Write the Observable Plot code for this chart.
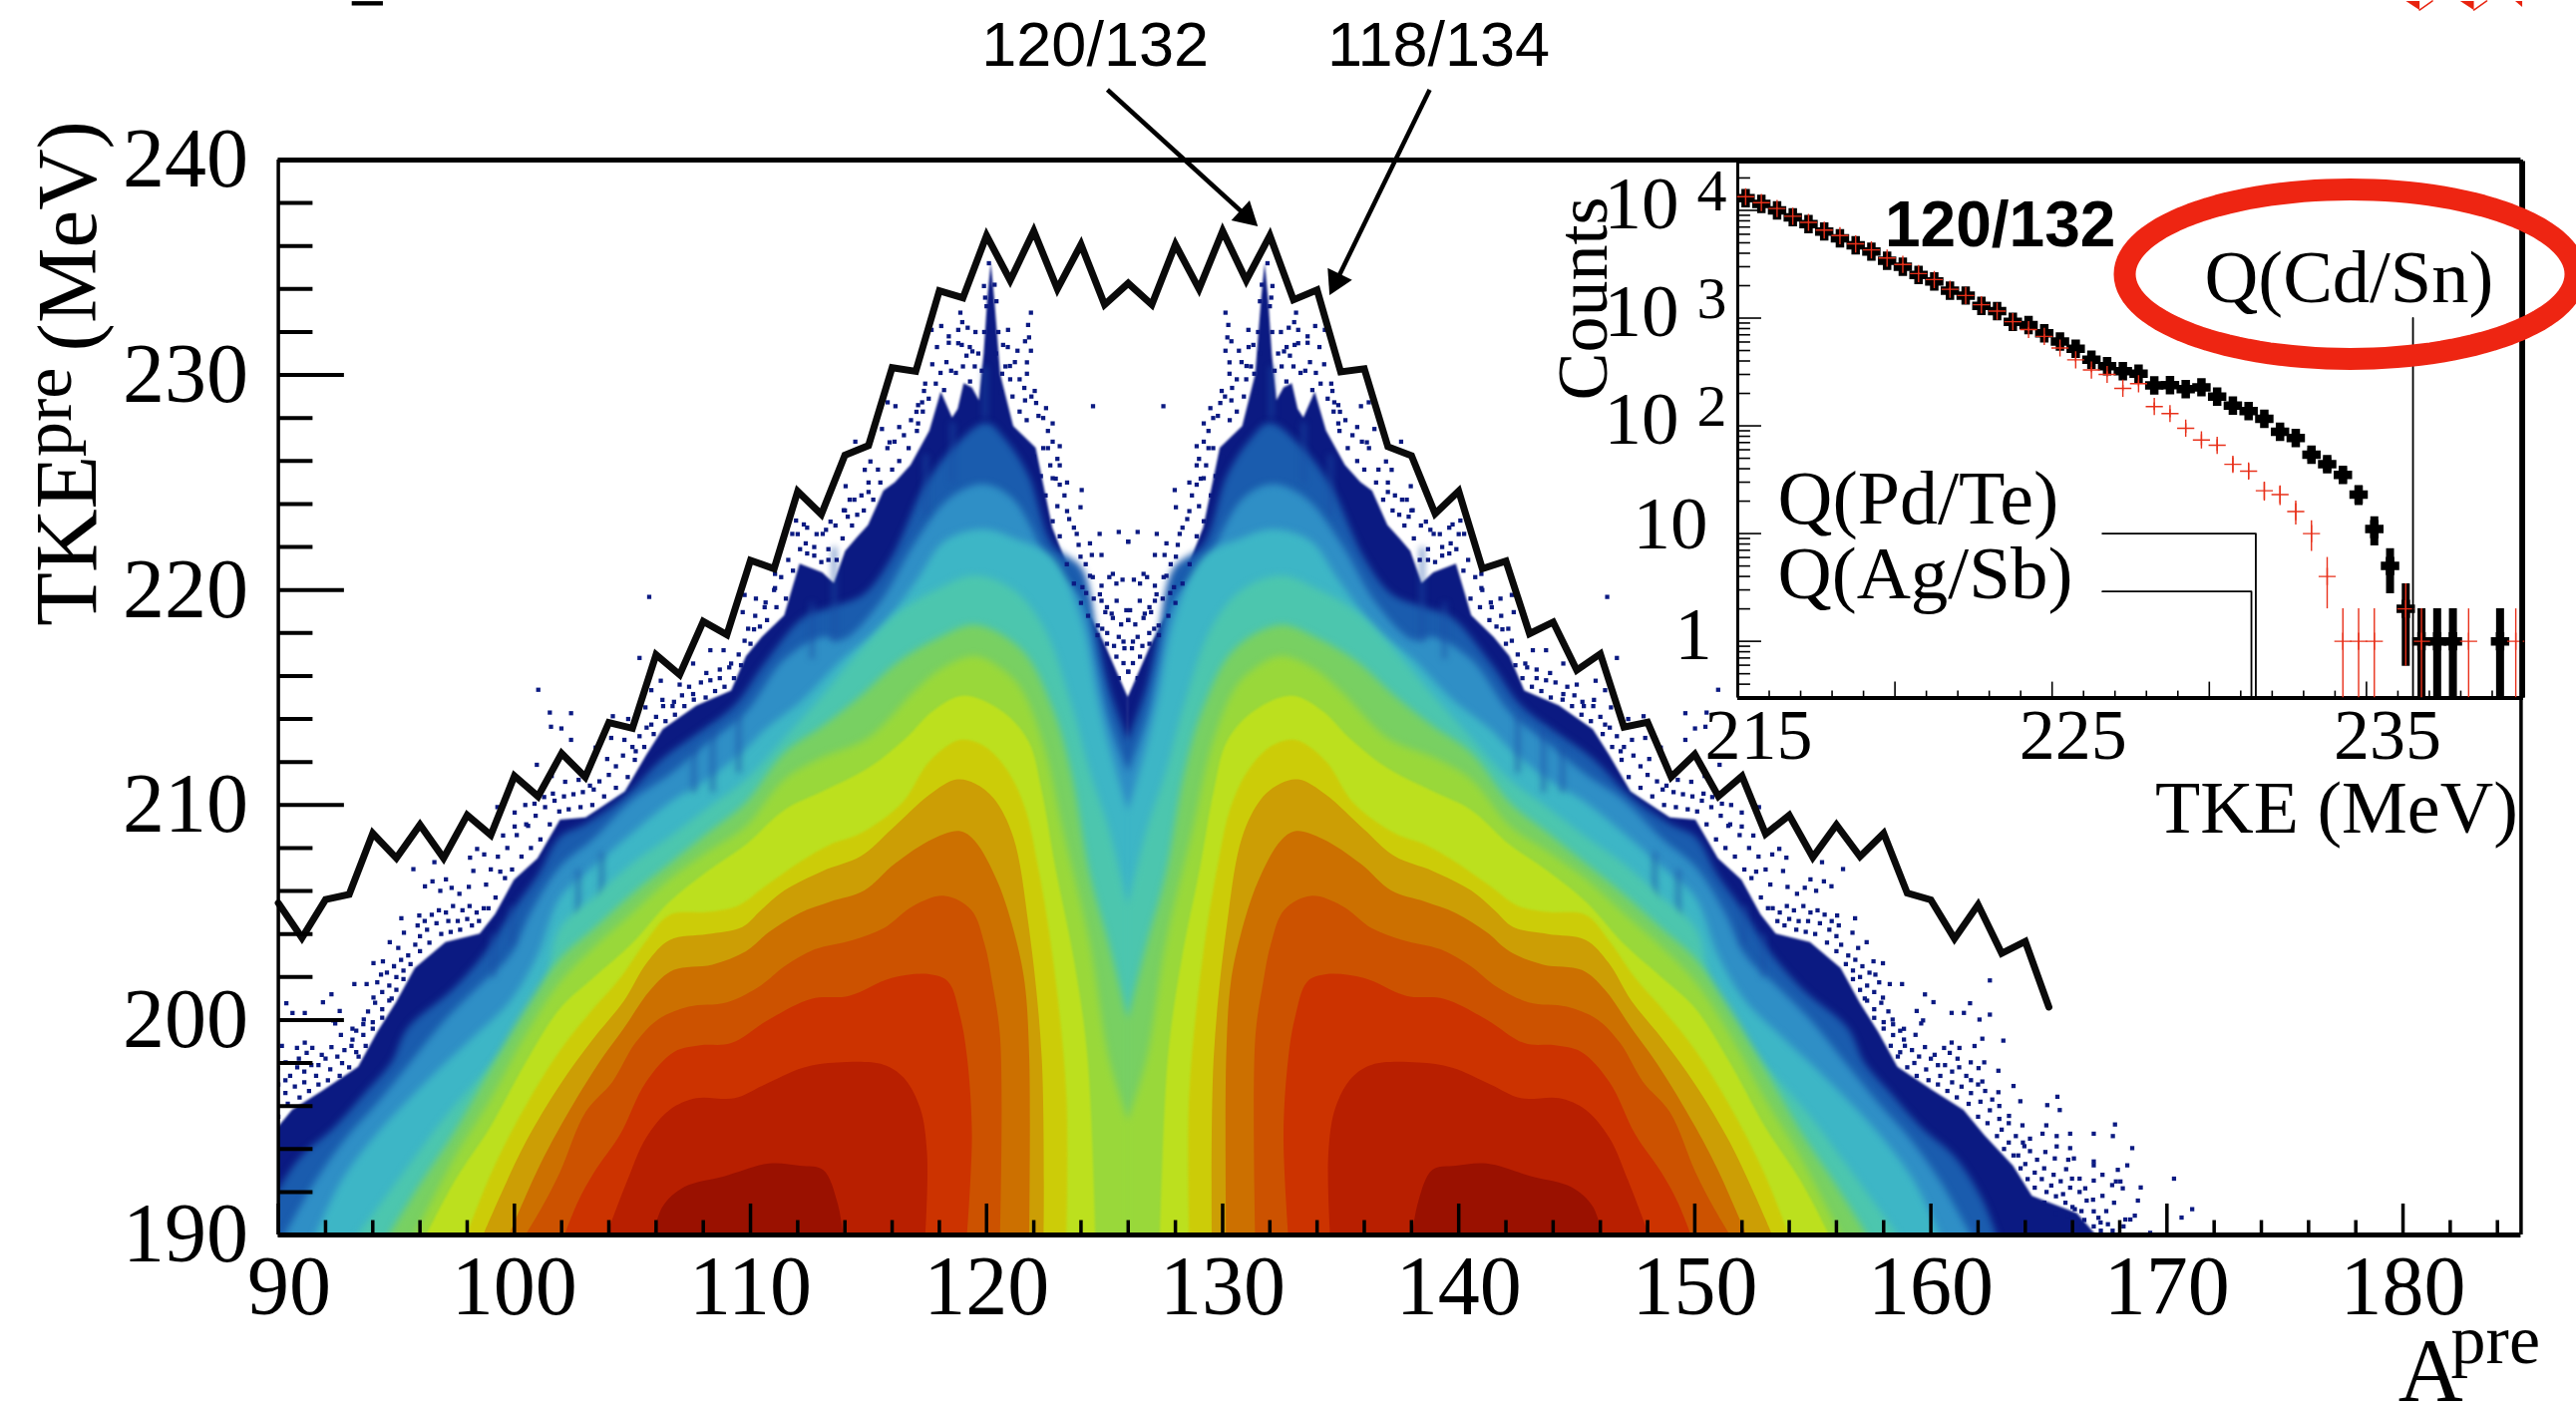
<!DOCTYPE html>
<html><head><meta charset="utf-8">
<script src="https://cdn.jsdelivr.net/npm/d3@7"></script>
<script src="https://cdn.jsdelivr.net/npm/@observablehq/plot@0.6"></script>
<style>
html,body{margin:0;padding:0;background:#fff;overflow:hidden}
#wrap{position:relative;width:2583px;height:1409px}
#wrap svg{position:absolute;left:0;top:0;background:transparent}
</style></head><body><div id="wrap"></div>
<script>
// ---- main panel: envelope line (TKE upper limit vs mass)
const lineMass = d3.range(90,166);
const lineTKE = [205.44,203.82,205.6,205.84,208.68,207.53,209.08,207.53,209.53,208.6,
211.35,210.4,212.4,211.3,213.84,213.57,216.99,216.06,218.54,217.92,
221.38,220.99,224.59,223.52,226.27,226.72,230.34,230.17,233.92,233.59,
236.49,234.4,236.7,234.0,236.07,233.27,234.27,233.27,236.07,234.0,
236.7,234.4,236.49,233.5,233.96,230.15,230.29,226.67,226.25,223.55,
224.6,220.99,221.35,217.97,218.51,216.27,217.03,213.62,213.85,211.3,
212.36,210.4,211.34,208.65,209.52,207.57,209.08,207.6,208.68,205.9,
205.59,203.78,205.36,203.1,203.65,200.6];
// ---- heat-map bands: upper contour [A,TKE] on the heavy-fragment side (the light side is its A -> 252-A image)
const levelNavy = [[126,215],[127,217.5],[128.1,219.8],[129.2,222.9],[129.9,226.6],[130.85,227.6],[131.4,230],[131.65,233.5],[131.8,235.2],[131.95,233.5],[132.1,231],[132.3,228.8],[132.6,229.4],[132.95,229.6],[133.2,228.4],[133.44,228],[133.92,229.2],[134.4,227.4],[135.2,225.8],[135.86,225],[136.35,224.6],[137,223],[137.5,222.4],[137.97,221.8],[138.45,220.3],[138.94,220.8],[139.9,221.2],[140.23,220],[140.55,218.8],[141.5,217.8],[142.17,216.9],[142.8,215.3],[144.27,214.6],[145.7,213.5],[146.4,212.3],[147.3,210.6],[148.96,209.4],[150.05,209.3],[151,207.5],[152,206.5],[152.8,204.9],[153.45,204],[154.9,203.6],[156.2,202.4],[157,200.8],[157.8,199.4],[158.6,197.8],[160.1,196.7],[161.4,195.8],[162.3,194.6],[163.5,193.2],[164.3,191.8],[166.2,191],[167,190]];
const levelBlue = [[126,213],[126.8,215.5],[127.3,218],[127.94,221],[129.2,222.1],[130.2,225.3],[131.2,227],[132,227.75],[133.3,226.7],[134.57,224.9],[136,221.5],[137.16,219.8],[138.5,219.2],[139.74,218.7],[141.36,216.6],[142.66,214.6],[144.1,213.4],[145.7,212.14],[147.3,210.37],[148.96,209.1],[150.05,208.5],[151,206.7],[152.15,204.95],[153.3,203],[154.6,201.4],[156.5,199.6],[157.2,198],[158.3,196.6],[159.6,195],[161.05,193.6],[162.2,191.64],[162.8,190]];
const levelMid = [[126,211.5],[126.8,214],[127.3,216.5],[127.94,219.5],[129.2,221],[130.85,224.2],[132.14,224.9],[133.6,224.2],[135.06,222.1],[136.5,219.4],[138.1,217.65],[138.94,217.8],[140.55,216.75],[142.17,214.3],[143.8,212.85],[145.4,211.4],[147,210.2],[148.64,208.4],[150.05,207.1],[151.3,204.95],[152.15,203],[153.3,201.75],[154.9,200],[156.5,197.85],[157.8,196.1],[159.1,194.5],[160.4,192.5],[161.7,190]];
const levelTeal = [[126,209.7],[126.8,212.75],[127.3,215],[127.94,218.5],[129.2,221.5],[130.85,222.4],[132.14,222.8],[133.76,222.25],[134.9,220.5],[136.5,218.2],[138.1,216.75],[139.74,214.9],[141.36,213.5],[142.17,212.6],[143.8,211.16],[145.4,210.1],[147,208.67],[148.64,207.1],[150.05,205.66],[151,203],[152.15,200.87],[153.8,199.1],[155.2,197.67],[156.8,195.9],[158.1,194.3],[159.3,192.5],[160.4,190]];
const levelAqua = [[126,205.3],[126.8,208.85],[127.6,211.5],[128.4,214.7],[129.56,218.25],[130.85,220],[132.47,220.65],[134.1,220],[135.7,218.96],[137.3,217.2],[138.94,215.06],[140.55,213.1],[142.17,211.16],[143.8,209.83],[145.4,208.5],[147,207.25],[148.64,205.66],[150.05,204.24],[150.86,200.87],[152,199.1],[153.3,197.5],[154.9,195.5],[156.4,193.3],[158.6,190]];
const levelGreen = [[126,200],[126.8,203.5],[127.6,206.7],[128.4,211.5],[129.2,214.5],[130.5,217.2],[132.47,218.35],[134.1,217.7],[135.7,216.66],[137.3,215.06],[138.94,213.64],[140.55,212.4],[142.17,210.1],[143.8,208.67],[145.4,207.25],[147,205.83],[148.64,204.2],[150.05,202.82],[151.5,200.5],[153,197.7],[154.5,194.8],[156,192.3],[157.3,190]];
const levelLime = [[126,195.3],[126.8,198.2],[127.6,203.5],[128.75,208.85],[129.56,212.75],[130.53,215.4],[131.34,216.3],[132.47,216.9],[133.92,216.3],[135.06,215.24],[137,213.1],[138.94,212.2],[140.55,211.16],[142.17,209],[143.8,207.8],[145.4,206.54],[147,204.95],[148.64,203.35],[150.05,201.75],[151.5,199.3],[153,196.3],[154.5,193.6],[156.2,190]];
const levelYellowGreen = [[127.37,190],[127.7,198.2],[128.26,202.64],[129.07,207.1],[129.64,210.6],[130.2,212.93],[131.34,214.35],[132.95,215.06],[134.25,214.35],[135.38,213.1],[137,211.69],[138.94,210.6],[140.55,209.74],[142.17,208.14],[143.8,206.9],[145.4,205.48],[147,203.53],[148.64,201.93],[150.05,200.5],[151.5,198],[153,195],[154.5,192.5],[155.7,190]];
const levelYellow = [[128.6,190],[128.6,196.43],[129.15,202.64],[129.8,207.1],[130.37,209.9],[131.17,211.7],[132.14,212.75],[133.1,213],[134.4,212],[135.54,210.1],[137.3,208.67],[138.6,208.14],[139.74,207.43],[141.36,206.2],[142.5,205.3],[143.8,205],[145.4,204.86],[146.37,203.7],[147.5,201.93],[148.64,200.5],[150.05,198.56],[151.5,196],[152.9,193],[154,190]];
const levelGold = [[129.56,190],[129.64,198.2],[130.2,204.4],[130.85,208.5],[131.66,210.27],[132.47,210.98],[133.28,211.16],[134.4,210.45],[136,208.85],[137.3,207.6],[138.94,206.9],[140.55,206],[141.52,205.1],[142.33,204.3],[143.8,203.97],[145.4,203.7],[146.37,202.64],[147.34,200.87],[148.64,199.1],[150.05,196.96],[151.5,194.3],[152.5,192],[153.3,190]];
const levelOrange = [[130.17,190],[130.17,198.2],[130.37,201.75],[130.77,203.88],[131.5,206.37],[132.47,208.3],[133.1,208.76],[134.25,208.4],[135.86,207.25],[137.16,206],[138.6,205.48],[139.9,204.95],[141.2,204.06],[142.17,203.17],[143.6,202.55],[145.24,202.3],[146.2,201.4],[147.34,199.6],[148.48,197.85],[150.05,195],[151,193],[152.2,190]];
const levelDarkOrange = [[131.4,190],[131.4,199.1],[131.74,201.75],[132.06,203.5],[132.63,205.1],[133.76,205.75],[135.06,205.3],[136.35,204.24],[137.64,203.7],[139.26,203.26],[140.55,202.46],[141.52,201.6],[142.98,200.8],[144.6,200.6],[145.9,200],[146.86,198.9],[147.83,197.1],[148.96,195.7],[150.05,192.9],[150.8,191.3],[151.5,190]];
const levelRedOrange = [[132.8,190],[132.6,194.66],[132.8,198.2],[133.1,200.16],[133.6,201.75],[134.4,202.1],[136,201.93],[137.8,201.1],[139.4,200.96],[141.2,200],[142.8,198.9],[144.1,198.8],[145.2,198.5],[146.4,197.1],[147.5,194.66],[148.6,192.9],[149.3,191.5],[149.85,190]];
const levelRed = [[134.57,190],[134.5,193.77],[134.8,195.9],[135.5,197.3],[136.35,197.9],[138.3,198],[139.75,197.76],[141.4,196.96],[142.65,196.34],[144.27,196.34],[145.4,195.8],[146.4,194.5],[147.2,192.5],[148.07,190]];
const levelDarkRed = [[138.05,190],[138.3,191.5],[138.9,193],[139.9,193.2],[141.2,193.3],[143.1,192.7],[144.8,192.2],[145.7,191.3],[146.1,190]];
const bandLevels = [levelNavy,levelBlue,levelMid,levelTeal,levelAqua,levelGreen,levelLime,levelYellowGreen,levelYellow,levelGold,levelOrange,levelDarkOrange,levelRedOrange,levelRed,levelDarkRed];
const bandColors = ["#0b1a82","#1a5cae","#2f8fc6","#3db6c6","#4cc6ae","#78d062","#99d83a","#bce01e","#cccc08","#cc9e05","#cc7000","#cc5200","#cc3300","#b81f00","#9a1100"];
// dark streaks [A, TKE top, TKE bottom] where even masses stand out
const streaks = [[138.45,222,217.6],[139.4,219.4,216.8],[142.5,214.2,211.5],[143.6,213.6,210.6],[144.4,212.7,210.6],[148.3,207.8,205.3],[149.3,207,204.8],[133.44,227.8,225],[134.57,226.3,223.5],[132.06,230.4,228],[152.1,205.3,203.5],[152.9,204,202]];
// isolated counts at the edge of the distribution, heavy side
const strayMass = [150.99,150.45,151.05,150.37,151.54,151.15,152.72,151.99,151.42,151.99,152.48,153.58,153.88,153.28,156.28,155.39,153.74,154.9,155.47,155.79,155.14,154.66,154.33,153.93,156.79,156.03,156.68,157.28,156.92,157.97,157.57,157.65,158.26,158.78,157.81,157.97,159.75,160.11,161.66,162.5,159.4,160.88,161.4,162.5,162.06,159.67,158.38,159.59,158.86,159.35,162.18,163.07,160.88,159.75,161.85,161.21,160.56,158.86,160.16,160.8,161.13,162.26,161.69,162.86,162.02,162.18,163.5,162.86,163.79,164.93,165.36,165.46,163.31,163.88,164.89,164.73,165.33,165.9,166.9,167.8,167.71,165.33,165.9,168.53,164.2,164.85,163.96,165.25,165.82,166.06,166.9,166.9,168.32,167.92,165.73,167.27,165.98,166.3,166.9,167.84,168.03,170.3,167.68,166.54,168.13,168.89,167.27,168.77,166.87,167.76,171.07,170.62,168.64,168.24,168.45,167.43,168.16,169.29,167.19,166.38,
127.49,127.97,130.12,130.24,130.2,130.37,130.12,130.69,131.09,130.29,130.29,131.01,131.34,129.96,129.48,130.37,129.2,129.8,128.9,129.4,128.9,129.3,128.59,129.07,128.02,128.59,126.4,127.21,128.18,127.62,126,127.13,127.54,128.02,126.24,126.65,127.13,127.62,127.94,126.49,127.13,127.46,127.78,126.08,126.65,126.97,126.4,126.89,127.29,126.16,133.11,133.03,133.92,134.33,132.47,133.6,133.2,132.71,131.9,131.66,132.11,131.58,132.06,135.86,136.19,135.7,136.43,136.11,134.97,134.73,134.65,134.9,137.56,137.16,136.92,137.97,137.8,137,138.05,137.48,138.61,137.88,139.74,140.07,138.94,140.23,139.66,140.96,140.96,141.36,142.25,141.77,146.29,142.33,141.85,142.25,143.14,143.7,146.7,142.82,144.43,143.3,143.87,145.8,145,144.43,146.2,145.24,145.73,146.45,147.83,147.18,149.6,150.5,146.2,147.34,149.6,150.01,147.9,148.56,148.07,146.86,149.28,150.42,150.74,149.85,148.64];
const strayTKE = [215.36,213.64,211.87,210.53,210,210.06,209.9,209.65,209.03,209,208.58,207.96,207.55,207.7,207.02,207.34,206.93,206.54,206.45,206.22,206.01,206.15,205.87,206.19,204.73,204.86,204.06,203.62,203.35,202.64,202.73,202.11,201.67,201.67,201.75,201.04,201.19,200.83,200.78,201.84,200.42,200.33,200.33,200.25,200.02,199.98,200.02,199.84,199.59,199.31,199.13,199.04,198.95,198.74,198.79,198.7,198.7,199.09,198.38,198.47,198.2,198.03,198.03,197.64,197.76,197.14,196.93,196.64,196.22,196.04,196.43,195.81,195.54,195.1,195.1,194.71,194.6,194.71,194.71,195.14,194.6,194.12,194.04,194.04,194.48,193.86,194.13,193.56,193.5,193.56,193.42,193.24,193.24,193.03,193.06,192.8,192.62,192.62,192.53,192.49,192.49,192.62,192.32,192.17,192.17,192.21,191.82,191.6,191.64,191.5,191.2,190.81,190.9,190.72,190.72,191.11,190.4,190.1,190.58,191.11,
228.55,224.65,232.9,232.33,231.75,231.57,231.13,231.13,232.1,230.59,230.06,230.42,230.06,229.26,228.46,228.82,227.75,228.1,226.69,226.6,225.8,225.8,225,225.18,223.85,223.67,222.7,222.61,222.61,222.17,222.25,221.63,221.63,221.55,220.48,220.75,220.2,220.66,220.13,219.5,219.5,219.6,219.86,219.06,218.7,218.97,217.82,218,218.35,217.29,232.9,232.46,232.28,232.1,232,231.8,231.48,231.3,235.2,234.2,234.14,233.43,233.6,228.55,228.73,227.58,227.49,226.87,228.29,228.73,229.26,227.75,226.9,225.59,225.98,224.83,224.2,224.56,223.71,223.5,223.18,223.41,223.05,223.23,222.61,222.61,222.17,220.75,220.09,219.42,219.77,219.6,219.68,218.97,218.17,217.64,217.2,217.2,216.84,216.58,216.58,216.3,216.14,215.78,215.6,215.16,215.34,214.8,214.89,214.54,214.13,214,214.27,214.3,213.74,213.03,213.03,213.56,213.12,212.67,212.14,212.5,211.17,211.35,210.37,211.08,210.72];
// speckle hugging the dense edge, read cluster by cluster
const edgeSpeckle = [[153.3,205.2],[153.6,205],[153.9,205.3],[154.2,205.1],[154.6,205.3],[154.9,205],[155.2,205.1],[155.5,204.9],[155.8,204.6],[156.1,204.4],[153.5,204.6],[154,204.7],[154.4,204.6],[154.8,204.6],[155.3,204.5],[155.7,204.2],[156,203.9],[156.2,203.5],
[156.5,203],[156.8,202.8],[157.1,202.5],[157,202],[156.7,202.3],[157.4,202.2],[157.3,201.6],[157.6,201.3],[157.2,201],[157.9,200.8],[157.6,200.5],[158.2,200.4],[158,199.9],[158.4,199.8],[158.7,199.5],[158.4,199.3],
[158.9,198.8],[159.2,198.6],[158.7,198.5],[159.5,198.3],[160,198.2],[159.3,198],[160.3,197.9],[160.6,197.9],[159.8,197.7],[160.9,197.6],[161.2,197.8],[160.4,197.4],[161.5,197.4],[160.9,197.1],[161.7,197.2],[162,197],[161.3,196.9],[162.3,196.7],[161.7,196.6],[162.6,196.3],[162.1,196.2],[162.9,196],[162.5,195.8],
[162.9,195.4],[163.3,195.2],[163,194.9],[163.6,194.6],[163.3,194.3],[163.9,194.3],[164.2,193.9],[163.7,193.7],[164.5,193.5],[164,193.3],[164.8,193.1],[164.4,192.9],[165.2,192.8],[164.7,192.6],[165.5,192.5],[165.9,192.2],[165.1,192.3],[166.3,192],[165.6,191.9],[166.6,191.6],[166,191.3],[166.9,191.1],[167.1,190.8],[166.5,190.7],[167.5,190.5],[166.9,190.4],[167.7,190.2],[167.2,190.2],
[142.5,217],[142.9,216.4],[143.3,215.9],[143.7,215.8],[144.1,215.7],[144.6,215.5],[144.9,215.1],[145.3,214.6],[145.7,214.6],[146,214.1],[146.4,213.6],[146.7,213.2],[147,212.7],[147.4,212.3],[147.7,211.8],[148,211.4],[148.4,211.1],[148.8,210.9],[149.1,210.6],[149.5,210.5],[149.9,210.4],[150.3,210.2],[150.7,209.9],[151.1,209.5],[151.5,209.1],[151.9,208.6],[152.3,208],[152.7,207.6],[153,207],[153.2,206.3],[152.6,206.9],
[134.6,229.6],[134.9,228.6],[135.2,227.9],[135.5,227.2],[135.9,226.9],[136.2,226.6],[136.6,225.6],[137,225],[137.3,224.4],[137.6,224.2],[138,223.7],[138.4,223],[138.8,222.8],[139.2,222.6],[139.6,222.9],[140,222.6],[140.4,221.4],[140.7,220.6],[141,220],[141.4,219.2],[141.8,218.8],[142.1,218.2],[132.8,232.2],[133.2,232.1],[133.6,231.5],[134.1,231.3],[134.3,230.5],[133,230.4],[132.7,229.7],[133.8,229.3],[138.7,221.4],[139.3,221.6],
[131.1,231.3],[130.8,230.6],[130.6,229.8],[130.4,229.4],[130.1,229],[129.9,228.7],[129.6,228],[129.4,227.4],[129.2,226.9],[129.6,226.6],[129,226.1],[129.2,225.2],[128.9,224.9],[128.7,224.4],[129,223.9],[128.5,223.3],[128.3,222.9],[128.1,222.1],[127.8,221.2],[127.5,220.6],[127.2,219.8],[126.9,219.2],[126.7,218.9],[126.3,218.4],[126.2,217.6],[126.6,217.4],[127.1,218.2],[126,218.6],[126.5,220.3],[126.8,220.6],
[130.3,227.9],[130.6,228.3],[130.9,229],[131,229.8],[131.2,230.4],[131.3,231.4],[131.5,232],[131.6,231],[131.4,229.2],[132.2,230.2],[132.1,232],[132,233.2],[132.35,231],[132.5,230.4],[132.6,231.1],[132.85,230.9],[133.05,231.4],[133.3,230.1],[133.5,230.2],[133.7,230.6],[133.95,230.1],[134.15,229.6],[134.45,228.9],[134.7,228.3],[134.95,227.4],[135.3,226.6],[135.7,226],[136,225.6],[136.5,225],[136.8,224.2],[137.2,223.7],[137.7,223],[138.1,222.4],[138.35,221.4],[138.7,221.9],[139,221.3],[139.3,222],[139.6,221.7],[139.9,221.9],[140.2,220.9],[140.5,219.6],[140.9,219.2],[141.3,218.6],[141.6,218.3],[142,217.5],[142.4,216.5],[142.7,215.9],[143.1,215.5],[143.5,215.3],[143.9,215],[144.4,214.9],[144.8,214.6],[145.2,214.2],[145.6,213.9],[146.1,213.3],[146.5,212.7],[146.9,212.1],[147.2,211.3],[147.7,210.8],[148.2,210.4],[148.7,210],[149.2,209.9],[149.7,209.8],[150.1,209.7],[150.5,209.1],[150.9,208.4],[151.3,208],[151.7,207.6],[152.1,207],[152.4,206.6],[152.8,205.7],[153.1,205.2],
[153.8,204.4],[154.3,204.2],[154.7,204.1],[155.1,204],[155.6,203.6],[156,203.2],[156.4,202.6],[156.7,201.9],[157,201.4],[157.3,200.9],[157.6,200.1],[158,199.6],[158.3,198.8],[158.6,198.3],[159,197.8],[159.4,197.4],[159.9,197.2],[160.3,197],[160.7,196.7],[161.1,196.4],[161.6,196.1],[162,195.5],[162.4,195.2],[162.8,194.6],[163.1,194],[163.5,193.7],[163.8,193.1],[164.1,192.6],[164.4,192.2],[164.9,192],[165.3,191.8],[165.7,191.5],[166.1,191.2],[166.4,190.4],[165.8,190.9],[165.3,191],[164.8,191.5],
[126.2,216.6],[126.5,216.9],[126.9,217.5],[127.3,217.9],[127.7,218.8],[128,219.4],[128.3,220.3],[128.6,221.2],[128.9,222.5],[129.2,223.2],[129.5,224.4],[129.7,225.3],[130,226.2],[126,216.2],[126.4,215.9]];
// axes of main panel
const xMajor = d3.range(90,190,10).filter(d=>d<=180);
const xMinor = d3.range(90,186,2).filter(d=>d%10!==0);
const yMajor = [190,200,210,220,230,240];
const yMinor = d3.range(190,240,2).filter(d=>d%10!==0);
// inset data: TKE spectra, 0.5 MeV bins
const insetTKE = d3.range(0,50).map(i=>215.25+i*0.5);
const insetBlack = [13000,11500,10000,8630,7450,6370,5500,4750,4140,3400,3000,2510,2190,1800,1620,1300,1160,925,863,724,607,519,410,357,321,305,237,239,219,228,187,154,137,116,88,77,54,44,35,23,11,5,2,1,1,1,null,null,1,null];
const insetRed = [13400,11800,10400,8810,7740,6560,5830,4890,4300,3610,3150,2590,2280,1850,1620,1330,1160,925,783,676,528,410,330,300,223,246,151,130,95,74,66,44,38,25,23,16,10,4,1,1,1,null,2,1,null,null,1,null,null,1];
const qCdSn = [[236.48,0.3],[236.48,1000]];
const qPdTe = [[226.6,10],[231.48,10],[231.48,0.3]];
const qAgSb = [[226.6,2.9],[231.34,2.9],[231.34,0.3]];
const insetXMajor = [215,220,225,230,235,240];
const insetXMinor = d3.range(215,241).filter(d=>d%5!==0);
const insetYMajor = [1,10,100,1000,10000];
const insetYMinor = [0.3,0.4,0.5,0.6,0.7,0.8,0.9,2,3,4,5,6,7,8,9,20,30,40,50,60,70,80,90,200,300,400,500,600,700,800,900,2000,3000,4000,5000,6000,7000,8000,9000,20000];
// arrows, ellipse and page-edge fragments (data units of the main panel)
const arrowFrom = [[125.12,243.27],[138.77,243.27]];
const arrowTo = [[131.3,237.1],[134.7,234.1]];
const arrowHead = [[131.0,237.41,132.3],[134.82,234.37,206]];
const ringCenter = [177.76,234.69], ringRadius = [9.548,3.94];
const chevronLeft = [[180.12,247.4],[180.7,246.98],[180.7,247.4]];
const chevronMiddle = [[182.42,247.4],[183,246.98],[183,247.4]];
const chevronOutline = [[[180.7,246.98],[181.25,247.4]],[[183,246.98],[183.55,247.4]]];
const chevronCorner = [[184.75,247.4],[185.05,247.12],[185.05,247.4]];
const topBar = [93.13,94.45,247.29];

const SERIF = "'Liberation Serif','Times New Roman',serif";
const SANS = "'Liberation Sans',Arial,sans-serif";
const mirror = pts => pts.map(([A,T])=>({A:252-A,T,lobe:"light"})).concat(pts.map(([A,T])=>({A,T,lobe:"heavy"})));
const strays = strayMass.map((A,i)=>[A,strayTKE[i]]).concat(edgeSpeckle).flatMap(([A,T])=>[{A,T},{A:252-A,T}]);
const streakRows = streaks.flatMap(([A,t,b])=>[{A,t,b},{A:252-A,t,b}]);
const lineRows = lineMass.map((A,i)=>({A,T:lineTKE[i]}));
const ring = d3.range(0,361,3).map(a=>({A:ringCenter[0]+ringRadius[0]*Math.cos(a*Math.PI/180),T:ringCenter[1]+ringRadius[1]*Math.sin(a*Math.PI/180)}));
const txt = (t,x,y,o={}) => Plot.text([t],{x:()=>x,y:()=>y,text:d=>d,fontFamily:SERIF,fill:"#000",...o});
const bandMark = i => Plot.areaY(mirror(bandLevels[i]),{x:"A",y1:()=>187,y2:"T",z:"lobe",fill:bandColors[i],clip:true,curve:i===0?"linear":"catmull-rom"});
const redFill = "#e8230f";

const main = Plot.plot({
  width:2583,height:1409,marginLeft:278.6,marginRight:55.6,marginTop:160,marginBottom:171,
  style:{background:"transparent",overflow:"visible"},
  x:{domain:[90,185],axis:null},y:{domain:[190,240],axis:null},
  marks:[
    bandMark(0),bandMark(1),bandMark(2),bandMark(3),
    Plot.link(streakRows,{x1:"A",x2:"A",y1:"t",y2:"b",stroke:"#1a4ea6",strokeOpacity:0.55,strokeWidth:5,clip:true}),
    ...d3.range(4,bandLevels.length).map(bandMark),
    Plot.dot(strays,{x:"A",y:"T",symbol:"square",r:2.4,fill:bandColors[0],clip:true}),
    Plot.line(lineRows,{x:"A",y:"T",stroke:"#0a0a0a",strokeWidth:7,strokeLinejoin:"miter",strokeMiterlimit:8}),
    Plot.ruleY([240],{stroke:"#000",strokeWidth:5,x1:90,x2:185}),
    Plot.ruleY([190],{stroke:"#000",strokeWidth:5,x1:90,x2:185}),
    Plot.ruleX([90],{stroke:"#000",strokeWidth:3.5,y1:190,y2:240}),
    Plot.ruleX([185],{stroke:"#000",strokeWidth:3.5,y1:190,y2:240}),
    Plot.ruleX(xMajor,{y1:190,y2:191.44,stroke:"#000",strokeWidth:3.5}),
    Plot.ruleX(xMinor,{y1:190,y2:190.67,stroke:"#000",strokeWidth:3.5}),
    Plot.ruleY(yMajor,{x1:90,x2:92.8,stroke:"#000",strokeWidth:4}),
    Plot.ruleY(yMinor,{x1:90,x2:91.47,stroke:"#000",strokeWidth:4}),
    Plot.text(xMajor.filter(d=>d>90),{x:d=>d,y:()=>190,dy:53,text:d=>String(d),fontFamily:SERIF,fontSize:84,lineAnchor:"middle",fill:"#000"}),
    txt("90",90,190,{dx:11,dy:53,fontSize:84,lineAnchor:"middle"}),
    Plot.text(yMajor,{x:()=>90,y:d=>d,dx:-30,dy:0,text:d=>String(d),fontFamily:SERIF,fontSize:84,textAnchor:"end",lineAnchor:"middle",fill:"#000"}),
    // axis titles
    txt("TKE",82.26,218.33,{rotate:-90,fontSize:88,textAnchor:"start",lineAnchor:"bottom"}),
    txt("pre",81.19,226.2,{rotate:-90,fontSize:70,textAnchor:"start",lineAnchor:"bottom"}),
    txt("(MeV)",82.26,231.1,{rotate:-90,fontSize:85,textAnchor:"start",lineAnchor:"bottom"}),
    txt("A",179.8,182.3,{fontSize:90,textAnchor:"start",lineAnchor:"bottom"}),
    txt("pre",182.03,184.02,{fontSize:70,textAnchor:"start",lineAnchor:"bottom"}),
    // isotope callouts
    txt("120/132",124.6,244.38,{fontFamily:SANS,fontSize:63,lineAnchor:"bottom"}),
    txt("118/134",139.15,244.38,{fontFamily:SANS,fontSize:63,lineAnchor:"bottom"}),
    Plot.link([0,1],{x1:i=>arrowFrom[i][0],y1:i=>arrowFrom[i][1],x2:i=>arrowTo[i][0],y2:i=>arrowTo[i][1],stroke:"#000",strokeWidth:4.5}),
    Plot.dot(arrowHead,{x:d=>d[0],y:d=>d[1],rotate:d=>d[2],symbol:"triangle2",r:13,fill:"#000"}),
    Plot.line(ring,{x:"A",y:"T",curve:"linear-closed",stroke:"#ee2512",strokeWidth:22}),
    // fragments of other artwork at the very top of the page
    Plot.ruleY([topBar[2]],{x1:topBar[0],x2:topBar[1],stroke:"#000",strokeWidth:4.4}),
    Plot.line(chevronLeft,{x:d=>d[0],y:d=>d[1],fill:redFill,stroke:"none"}),
    Plot.line(chevronMiddle,{x:d=>d[0],y:d=>d[1],fill:redFill,stroke:"none"}),
    Plot.line(chevronCorner,{x:d=>d[0],y:d=>d[1],fill:redFill,stroke:"none"}),
    ...chevronOutline.map(seg=>Plot.line(seg,{x:d=>d[0],y:d=>d[1],stroke:redFill,strokeWidth:1.5}))
  ]
});
// soften the noisy low-count bands the way the fine-binned histogram shades them
const bandGroups = main.querySelectorAll('g[aria-label="area"]');
bandGroups.forEach((g,i)=>{
  const blur = i===0 ? 1.2 : i<=6 ? 3.5 : i<=8 ? 1.2 : 0.5;
  g.style.filter = `blur(${blur}px)`;
});
const linkGroup = main.querySelector('g[aria-label="link"]');
if (linkGroup) linkGroup.style.filter = "blur(3px)";

const blackRows = insetTKE.map((x,i)=>({x,n:insetBlack[i]})).filter(d=>d.n!=null);
const redRows = insetTKE.map((x,i)=>({x,n:insetRed[i]})).filter(d=>d.n!=null);
const lo = d=>Math.max(d.n-Math.sqrt(d.n),0.3), hi = d=>d.n+Math.sqrt(d.n);
const pathOf = pts=>pts.map(([x,y])=>({x,y}));

const inset = Plot.plot({
  width:2583,height:1409,marginLeft:1742,marginRight:53,marginTop:161.5,marginBottom:709.4,
  style:{background:"transparent",overflow:"visible"},
  x:{domain:[215,240],axis:null},y:{type:"log",domain:[0.297,28400],axis:null},
  marks:[
    Plot.ruleY([28400],{stroke:"#000",strokeWidth:4,x1:215,x2:240}),
    Plot.ruleY([0.297],{stroke:"#000",strokeWidth:4,x1:215,x2:240}),
    Plot.ruleX([215],{stroke:"#000",strokeWidth:3,y1:0.297,y2:28400}),
    Plot.ruleX([240],{stroke:"#000",strokeWidth:3,y1:0.297,y2:28400}),
    Plot.ruleX(insetXMajor,{y1:0.297,y2:0.297*Math.pow(10,16/108),stroke:"#000",strokeWidth:1.6}),
    Plot.ruleX(insetXMinor,{y1:0.297,y2:0.297*Math.pow(10,7/108),stroke:"#000",strokeWidth:1.6}),
    Plot.ruleY(insetYMajor,{x1:215,x2:215.76,stroke:"#000",strokeWidth:1.6}),
    Plot.ruleY(insetYMinor,{x1:215,x2:215.41,stroke:"#000",strokeWidth:1.6}),
    Plot.ruleX(blackRows,{x:"x",y1:lo,y2:hi,stroke:"#000",strokeWidth:8}),
    Plot.dot(blackRows,{x:"x",y:"n",symbol:"plus",r:6,stroke:"#000",strokeWidth:8.5,strokeLinecap:"butt"}),
    Plot.ruleX(redRows,{x:"x",y1:lo,y2:hi,stroke:"#e8301a",strokeWidth:1.4}),
    Plot.dot(redRows,{x:"x",y:"n",symbol:"plus",r:5.6,stroke:"#e8301a",strokeWidth:1.4}),
    Plot.line(pathOf(qCdSn),{x:"x",y:"y",stroke:"#000",strokeWidth:1.8}),
    Plot.line(pathOf(qPdTe),{x:"x",y:"y",stroke:"#000",strokeWidth:1.8}),
    Plot.line(pathOf(qAgSb),{x:"x",y:"y",stroke:"#000",strokeWidth:1.8}),
    Plot.text([215,225,235],{x:d=>d,y:()=>0.297,dx:21,dy:61,text:d=>String(d),fontFamily:SERIF,fontSize:72,lineAnchor:"bottom",fill:"#000"}),
    Plot.text([10000,1000,100],{x:()=>213.13,y:d=>d,dy:18,text:()=>"10",fontFamily:SERIF,fontSize:75,textAnchor:"end",lineAnchor:"bottom",fill:"#000"}),
    Plot.text(["4","3","2"],{x:()=>213.7,y:d=>Math.pow(10,+d),dy:0,text:d=>d,fontFamily:SERIF,fontSize:60,textAnchor:"start",lineAnchor:"bottom",fill:"#000"}),
    Plot.text([10],{x:()=>214.05,y:d=>d,dy:15,text:()=>"10",fontFamily:SERIF,fontSize:75,textAnchor:"end",lineAnchor:"bottom",fill:"#000"}),
    Plot.text([1],{x:()=>214.18,y:d=>d,dy:18,text:()=>"1",fontFamily:SERIF,fontSize:75,textAnchor:"end",lineAnchor:"bottom",fill:"#000"}),
    Plot.text(["Counts"],{x:()=>210.82,y:()=>172,rotate:-90,text:d=>d,fontFamily:SERIF,fontSize:72,textAnchor:"start",lineAnchor:"bottom",fill:"#000"}),
    Plot.text(["120/132"],{x:()=>219.68,y:()=>4690,text:d=>d,fontFamily:SANS,fontWeight:"bold",fontSize:64,textAnchor:"start",lineAnchor:"bottom",fill:"#000"}),
    Plot.text(["Q(Cd/Sn)"],{x:()=>229.85,y:()=>1400,text:d=>d,fontFamily:SERIF,fontSize:74.5,textAnchor:"start",lineAnchor:"bottom",fill:"#000"}),
    Plot.text(["Q(Pd/Te)"],{x:()=>216.27,y:()=>12.5,text:d=>d,fontFamily:SERIF,fontSize:76,textAnchor:"start",lineAnchor:"bottom",fill:"#000"}),
    Plot.text(["Q(Ag/Sb)"],{x:()=>216.27,y:()=>2.53,text:d=>d,fontFamily:SERIF,fontSize:75,textAnchor:"start",lineAnchor:"bottom",fill:"#000"}),
    Plot.text(["TKE (MeV)"],{x:()=>228.28,y:()=>0.297,dy:135,text:d=>d,fontFamily:SERIF,fontSize:74,textAnchor:"start",lineAnchor:"bottom",fill:"#000"})
  ]
});
inset.style.zIndex = 1;
main.style.zIndex = 2;
const wrap=document.getElementById("wrap");
wrap.appendChild(main);wrap.appendChild(inset);
</script></body></html>
